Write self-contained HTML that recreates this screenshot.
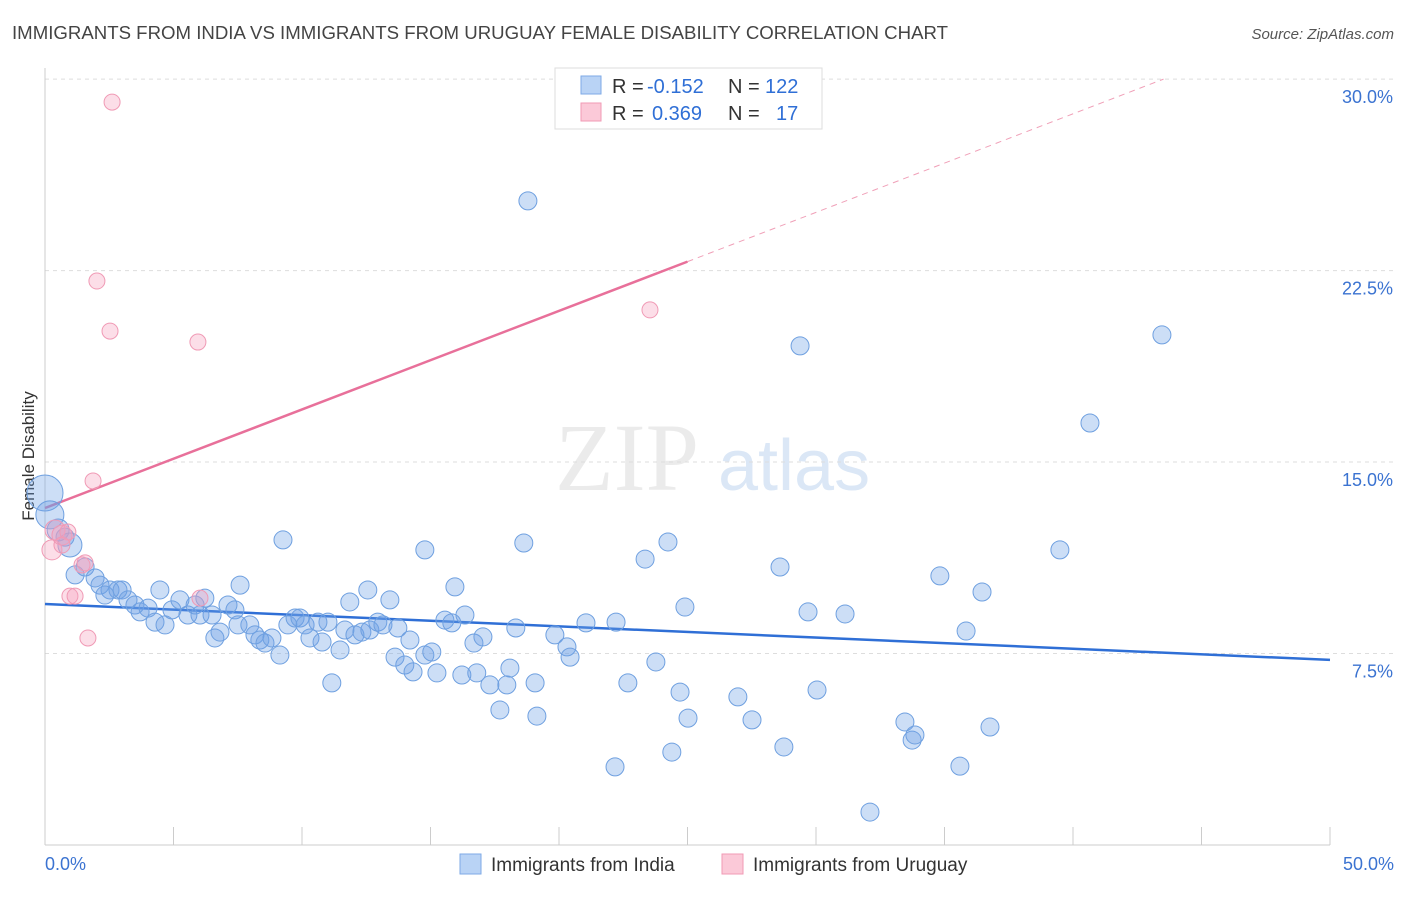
<!DOCTYPE html>
<html><head><meta charset="utf-8"><style>
body{margin:0;background:#fff;font-family:"Liberation Sans",sans-serif;}
</style></head><body>
<svg id="chart" width="1406" height="892" xmlns="http://www.w3.org/2000/svg" font-family="Liberation Sans, sans-serif">
<text x="12" y="39" font-size="18" fill="#444" textLength="936" lengthAdjust="spacingAndGlyphs">IMMIGRANTS FROM INDIA VS IMMIGRANTS FROM URUGUAY FEMALE DISABILITY CORRELATION CHART</text>
<text x="1394" y="39" font-size="15" fill="#555" text-anchor="end" font-style="italic">Source: ZipAtlas.com</text>
<text transform="translate(34,456) rotate(-90)" font-size="17" fill="#333" text-anchor="middle">Female Disability</text>
<g opacity="0.5">
<text x="555" y="490" font-size="96" fill="#d8d8d8" font-family="Liberation Serif, serif">ZIP</text>
<text x="718" y="490" font-size="72" fill="#b8d0ee">atlas</text>
</g>
<g id="grid"></g><g id="axes"></g><g id="lines"></g><g id="pts"></g>
<g>
<rect x="555" y="68" width="267" height="61" fill="#fff" stroke="#ddd"/>
<rect x="581" y="76" width="20" height="18" fill="#b9d3f5" stroke="#7eaae6"/>
<rect x="581" y="103" width="20" height="18" fill="#fbc9d8" stroke="#f09ab5"/>
<text x="612" y="93" font-size="20" fill="#333">R =</text>
<text x="647" y="93" font-size="20" fill="#2f6fd6">-0.152</text>
<text x="728" y="93" font-size="20" fill="#333">N =</text>
<text x="765" y="93" font-size="20" fill="#2f6fd6">122</text>
<text x="612" y="120" font-size="20" fill="#333">R =</text>
<text x="652" y="120" font-size="20" fill="#2f6fd6">0.369</text>
<text x="728" y="120" font-size="20" fill="#333">N =</text>
<text x="776" y="120" font-size="20" fill="#2f6fd6">17</text>
</g>
<g>
<rect x="460" y="854" width="21" height="20" fill="#b9d3f5" stroke="#7eaae6"/>
<text x="491" y="871" font-size="19" fill="#333">Immigrants from India</text>
<rect x="722" y="854" width="21" height="20" fill="#fbc9d8" stroke="#f09ab5"/>
<text x="753" y="871" font-size="19" fill="#333">Immigrants from Uruguay</text>
</g>
</svg>
<script>
const yTicks=[7.5,15,22.5,30];
const yTickLabels=["7.5%","15.0%","22.5%","30.0%"];
const xTickLabels=["0.0%","50.0%"];
const indiaX=[0,.19,.51,.97,.78,1.17,1.56,1.95,2.14,2.53,2.84,3.00,2.33,3.23,3.50,3.70,4.01,4.28,4.47,4.67,4.94,5.25,5.56,5.84,6.03,6.22,6.50,6.61,6.81,7.12,7.39,7.59,7.51,7.97,8.17,8.36,8.56,8.83,9.14,9.26,9.45,9.73,9.92,10.12,10.31,10.62,10.78,11.01,11.16,11.48,11.67,11.86,12.06,12.33,12.56,12.64,12.95,13.15,13.42,13.73,14.20,13.62,14.00,14.32,14.78,14.78,15.05,15.25,15.56,15.83,15.95,16.22,16.34,16.69,16.80,17.04,17.31,17.70,17.97,18.09,18.32,18.63,18.79,19.07,19.14,19.84,20.31,20.43,21.05,22.18,22.22,22.68,23.35,23.77,24.24,24.39,24.71,24.90,25.02,26.96,27.51,28.60,28.75,29.38,29.69,30.04,31.13,32.10,33.46,33.74,33.85,34.82,35.60,35.84,36.46,36.77,39.49,40.66,43.46];
const indiaY=[13.79,12.93,12.34,11.75,12.06,10.58,10.89,10.46,10.18,9.99,9.99,9.99,9.79,9.60,9.40,9.13,9.28,8.73,9.99,8.62,9.21,9.60,9.01,9.40,9.01,9.67,9.01,8.11,8.34,9.40,9.21,10.18,8.62,8.62,8.23,8.03,7.91,8.11,7.44,11.95,8.62,8.89,8.89,8.62,8.11,8.73,7.95,8.73,6.35,7.64,8.42,9.52,8.23,8.34,9.99,8.42,8.73,8.62,9.60,8.50,8.03,7.36,7.05,6.78,11.56,7.44,7.56,6.74,8.81,8.70,10.11,6.66,9.01,7.91,6.74,8.15,6.27,5.29,6.27,6.93,8.50,11.83,25.23,6.35,5.05,8.23,7.76,7.36,8.70,3.06,8.73,6.35,11.20,7.17,11.87,3.64,5.99,9.32,4.97,5.80,4.90,10.89,3.84,19.55,9.13,6.07,9.05,1.29,4.82,4.11,4.31,10.54,3.09,8.38,9.91,4.62,11.56,16.53,19.98];
const uruX=[2.61,2.02,2.53,5.95,23.54,1.87,.27,.39,.66,.89,1.44,1.56,.97,1.17,1.67,6.03,.66];
const uruY=[29.10,22.09,20.13,19.70,20.96,14.26,11.56,12.34,12.14,12.26,10.97,11.05,9.75,9.75,8.11,9.67,11.75];
const indiaTrend=[9.44,7.25];
const uruTrend=[13.20,0.386];
const NS="http://www.w3.org/2000/svg";
const X=v=>45+v*25.7, Y=v=>845-v*25.53;
function mk(p,t,a){const e=document.createElementNS(NS,t);for(const k in a)e.setAttribute(k,a[k]);p.appendChild(e);return e;}
const grid=document.getElementById('grid'),axes=document.getElementById('axes'),lines=document.getElementById('lines'),pts=document.getElementById('pts');
yTicks.forEach((t,i)=>{
 const l=mk(grid,'line',{x1:45,x2:1394,y1:Y(t),y2:Y(t),stroke:'#ddd','stroke-dasharray':'4,4'});
 
 
 const tx=mk(axes,'text',{x:1393,y:Y(t)+24,'font-size':18,fill:'#3b73d1','text-anchor':'end'});tx.textContent=yTickLabels[i];
 
 
});
const ax=mk(axes,'line',{x1:45,x2:1330,y1:845,y2:845,stroke:'#ccc'});


const ay=mk(axes,'line',{x1:45,x2:45,y1:68,y2:845,stroke:'#ccc'});


for(let p=0;p<=50;p+=5){const tk=mk(axes,'line',{x1:X(p),x2:X(p),y1:827,y2:845,stroke:'#ccc'});
 
 }
const xl0=mk(axes,'text',{x:45,y:870,'font-size':18,fill:'#3b73d1'});xl0.textContent=xTickLabels[0];


const xl1=mk(axes,'text',{x:1394,y:870,'font-size':18,fill:'#3b73d1','text-anchor':'end'});xl1.textContent=xTickLabels[1];


indiaX.forEach((x,i)=>{const r=i==0?18:i==1?14:i==3?12:i==2?11:9;
 const c=mk(pts,'circle',{cx:X(x),cy:Y(indiaY[i]),r:r,fill:'rgba(110,160,230,0.35)',stroke:'#6fa0e0','stroke-width':1});
 
 });
uruX.forEach((x,i)=>{const c=mk(pts,'circle',{cx:X(x),cy:Y(uruY[i]),r:i>=6&&i<=8?10:8,fill:'rgba(245,160,190,0.35)',stroke:'#f09ab5','stroke-width':1});
 
 });
const bl=mk(lines,'line',{x1:X(0),y1:Y(indiaTrend[0]),x2:X(50),y2:Y(indiaTrend[1]),stroke:'#2f6fd6','stroke-width':2.5});


const xEnd=(30-uruTrend[0])/uruTrend[1];
const pl=mk(lines,'line',{x1:X(0),y1:Y(uruTrend[0]),x2:X(25),y2:Y(uruTrend[0]+uruTrend[1]*25),stroke:'#e8709a','stroke-width':2.5});


const pd=mk(lines,'line',{x1:X(25),y1:Y(uruTrend[0]+uruTrend[1]*25),x2:X(xEnd),y2:Y(30),stroke:'#f0a0b8','stroke-width':1,'stroke-dasharray':'6,5'});


</script>
</body></html>
